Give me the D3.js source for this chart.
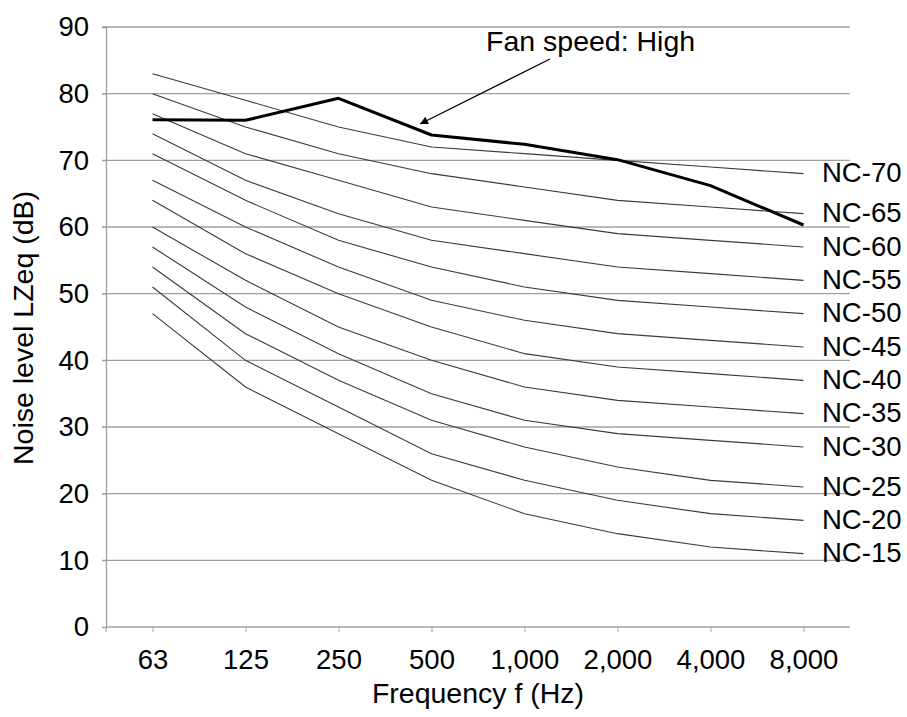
<!DOCTYPE html>
<html><head><meta charset="utf-8">
<script src="https://cdn.jsdelivr.net/npm/d3@7"></script>
<style>body{margin:0;background:#fff}svg{display:block}text{font-family:"Liberation Sans",Arial,sans-serif;fill:#000}</style>
</head><body>
<script>
const frequencies = ["63","125","250","500","1,000","2,000","4,000","8,000"];
const ncNames = ["NC-15","NC-20","NC-25","NC-30","NC-35","NC-40","NC-45","NC-50","NC-55","NC-60","NC-65","NC-70"];
const nc15 = [47,36,29,22,17,14,12,11];
const nc20 = [51,40,33,26,22,19,17,16];
const nc25 = [54,44,37,31,27,24,22,21];
const nc30 = [57,48,41,35,31,29,28,27];
const nc35 = [60,52,45,40,36,34,33,32];
const nc40 = [64,56,50,45,41,39,38,37];
const nc45 = [67,60,54,49,46,44,43,42];
const nc50 = [71,64,58,54,51,49,48,47];
const nc55 = [74,67,62,58,56,54,53,52];
const nc60 = [77,71,67,63,61,59,58,57];
const nc65 = [80,75,71,68,66,64,63,62];
const nc70 = [83,79,75,72,71,70,69,68];
const fanHigh = [76.1,76,79.3,73.8,72.4,70.1,66.2,60.3];
const yTicks = [0,10,20,30,40,50,60,70,80,90];
const annotationText = "Fan speed: High";
const xTitle = "Frequency f (Hz)";
const yTitle = "Noise level LZeq (dB)";

const ncSeries = [nc15,nc20,nc25,nc30,nc35,nc40,nc45,nc50,nc55,nc60,nc65,nc70];

const W = 907, H = 717;
const svg = d3.select("body").append("svg").attr("width", W).attr("height", H);
const L = 106, R = 850, T = 27, B = 627;
const x = d3.scalePoint().domain(frequencies).range([L, R]).padding(0.5);
const y = d3.scaleLinear().domain([0, 90]).range([B, T]);
const FS = 27.5;

// gridlines
svg.append("g").selectAll("line").data(yTicks.filter(d => d > 0)).join("line")
  .attr("x1", L - 4).attr("x2", R).attr("y1", d => y(d)).attr("y2", d => y(d))
  .attr("stroke", "#a0a0a0").attr("stroke-width", 1.3);

// y axis
const yAxis = svg.append("g").attr("transform", `translate(${L},0)`)
  .call(d3.axisLeft(y).tickValues(yTicks).tickSize(4).tickPadding(13).tickFormat(d3.format("d")));
yAxis.select(".domain").attr("stroke", "#a0a0a0").attr("stroke-width", 1.3);
yAxis.selectAll(".tick line").attr("stroke", "#a0a0a0");
yAxis.selectAll("text").attr("font-size", FS).attr("font-family", "Liberation Sans, Arial, sans-serif").attr("fill", "#000");

// x axis
const xAxis = svg.append("g").attr("transform", `translate(0,${B})`)
  .call(d3.axisBottom(x).tickSize(5).tickPadding(17).tickSizeOuter(0));
xAxis.select(".domain").attr("stroke", "#a0a0a0").attr("stroke-width", 1.3).attr("d", `M${L},0H${R}`);
xAxis.selectAll(".tick line").attr("stroke", "#a0a0a0");
xAxis.selectAll("text").attr("font-size", FS).attr("font-family", "Liberation Sans, Arial, sans-serif").attr("fill", "#000");
xAxis.append("line").attr("x1", L).attr("x2", L).attr("y1", 0).attr("y2", 5).attr("stroke", "#a0a0a0");

const line = d3.line().x((d, i) => x(frequencies[i])).y(d => y(d));

// NC curves
svg.append("g").selectAll("path").data(ncSeries).join("path")
  .attr("d", line).attr("fill", "none").attr("stroke", "#3a3a3a").attr("stroke-width", 1.1);

// NC labels
svg.append("g").selectAll("text").data(ncSeries).join("text")
  .attr("x", 822).attr("y", d => y(d[d.length - 1]) - 1)
  .attr("dy", "0.35em").attr("font-size", FS)
  .text((d, i) => ncNames[i]);

// Fan line
svg.append("path").datum(fanHigh).attr("d", line)
  .attr("fill", "none").attr("stroke", "#000").attr("stroke-width", 3).attr("stroke-linejoin", "round");

// Annotation
svg.append("defs").append("marker").attr("id", "arr").attr("viewBox", "0 0 10 10")
  .attr("refX", 10).attr("refY", 5).attr("markerWidth", 12).attr("markerHeight", 8)
  .attr("markerUnits", "userSpaceOnUse").attr("orient", "auto")
  .append("path").attr("d", "M0,0L10,5L0,10z").attr("fill", "#000");
svg.append("line").attr("x1", 550).attr("y1", 59).attr("x2", 420).attr("y2", 124)
  .attr("stroke", "#000").attr("stroke-width", 1.2).attr("marker-end", "url(#arr)");
svg.append("text").attr("x", 486).attr("y", 51).attr("font-size", 28.5).text(annotationText);

// titles
svg.append("text").attr("x", (L + R) / 2).attr("y", 703).attr("text-anchor", "middle")
  .attr("font-size", 28.5).text(xTitle);
svg.append("text").attr("transform", `translate(33,328) rotate(-90)`)
  .attr("text-anchor", "middle").attr("font-size", 28.5).text(yTitle);
</script>
</body></html>
